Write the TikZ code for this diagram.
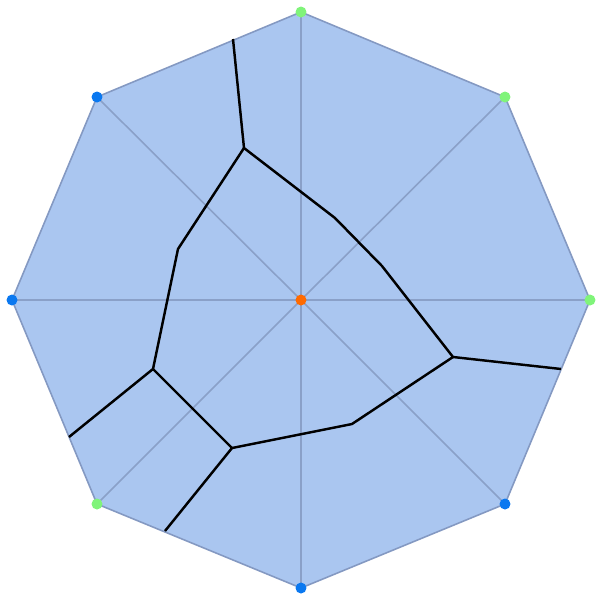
\documentclass[tikz,border=0pt]{standalone}
\definecolor{fillc}{HTML}{AAC6F0}
\definecolor{edgec}{HTML}{8499C2}
\definecolor{spokec}{HTML}{8AA0C8}
\definecolor{greenc}{HTML}{80F47A}
\definecolor{bluec}{HTML}{0A78F0}
\definecolor{orangec}{HTML}{FF6A00}
\begin{document}
\begin{tikzpicture}[x=0.02cm,y=-0.02cm,
  dotg/.style={circle,fill=greenc,inner sep=0pt,minimum size=0.22cm},
  dotb/.style={circle,fill=bluec,inner sep=0pt,minimum size=0.22cm},
  doto/.style={circle,fill=orangec,inner sep=0pt,minimum size=0.22cm},
  spoke/.style={spokec,line width=0.9pt},
  wall/.style={black,line width=1.4pt,line join=round}]
\useasboundingbox (0,0) rectangle (600,600);
\coordinate (c) at (301,300);
\coordinate (v1) at (301,12);
\coordinate (v2) at (505,97);
\coordinate (v3) at (590,300);
\coordinate (v4) at (505,504);
\coordinate (v5) at (301,588);
\coordinate (v6) at (97,504);
\coordinate (v7) at (12,300);
\coordinate (v8) at (97,97);
\fill[fillc,draw=edgec,line width=0.9pt] (v1)--(v2)--(v3)--(v4)--(v5)--(v6)--(v7)--(v8)--cycle;
\foreach \v in {v1,v2,v3,v4,v5,v6,v7,v8} \draw[spoke] (c)--(\v);
% walls
\coordinate (a0) at (233,39);
\coordinate (a1) at (244,148);
\coordinate (a2) at (335,218);
\coordinate (a3) at (382,266);
\coordinate (a4) at (453,357);
\coordinate (a5) at (561,369);
\coordinate (b1) at (178,249);
\coordinate (b2) at (153,369);
\coordinate (b3) at (69,437);
\coordinate (d1) at (232,448);
\coordinate (d2) at (165,531);
\coordinate (e1) at (352,424);
\draw[wall] (a0)--(a1)--(a2)--(a3)--(a4)--(a5);
\draw[wall] (a1)--(b1)--(b2)--(b3);
\draw[wall] (b2)--(d1)--(d2);
\draw[wall] (d1)--(e1)--(a4);
\node[dotg] (n1) at (v1) {};
\node[dotg] (n2) at (v2) {};
\node[dotg] (n3) at (v3) {};
\node[dotb] (n4) at (v4) {};
\node[dotb] (n5) at (v5) {};
\node[dotg] (n6) at (v6) {};
\node[dotb] (n7) at (v7) {};
\node[dotb] (n8) at (v8) {};
\node[doto] (n0) at (c) {};
\end{tikzpicture}
\end{document}
